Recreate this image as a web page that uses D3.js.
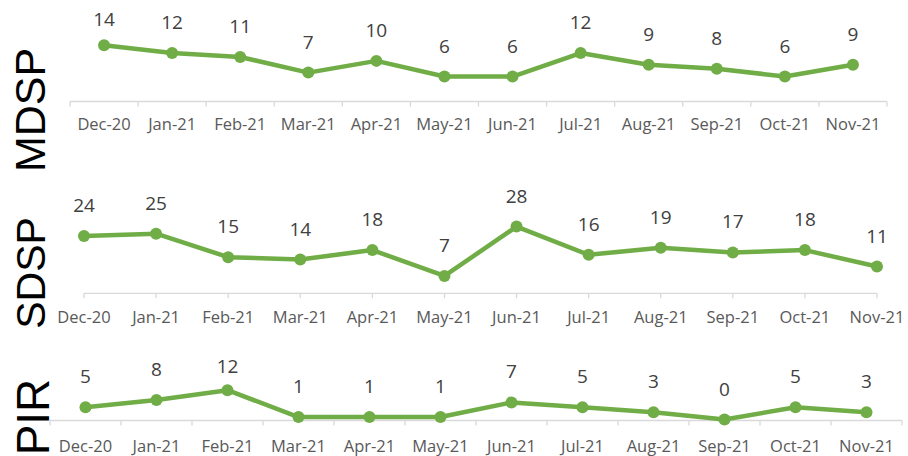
<!DOCTYPE html>
<html>
<head>
<meta charset="utf-8">
<script src="https://cdn.jsdelivr.net/npm/d3@7"></script>
<style>
  body { margin: 0; background: #fff; }
  svg { display: block; font-family: "Open Sans", sans-serif; }
</style>
</head>
<body>
<div id="chart"></div>
<script>
// monthly counts
const months = ["Dec-20","Jan-21","Feb-21","Mar-21","Apr-21","May-21","Jun-21","Jul-21","Aug-21","Sep-21","Oct-21","Nov-21"];
const mdsp = [14, 12, 11, 7, 10, 6, 6, 12, 9, 8, 6, 9];
const sdsp = [24, 25, 15, 14, 18, 7, 28, 16, 19, 17, 18, 11];
const pir  = [5, 8, 12, 1, 1, 1, 7, 5, 3, 0, 5, 3];

const W = 908, H = 456;
const green = "#70ad47";

const svg = d3.select("#chart").append("svg")
    .attr("width", W)
    .attr("height", H);

// layout of the three panels (Excel put them at slightly different spots)
const panels = [
  {name: "MDSP", values: mdsp, mode: "band", x0: 70, x1: 887, axisY: 101.5,
   yDom: [0, 16], yRange: [100, 37.4], labelMin: 26, tickBase: 130,
   title: {x: 45, y: 110, size: 43}},
  {name: "SDSP", values: sdsp, mode: "point", x0: 84, x1: 877, axisY: 293.3,
   yDom: [0, 30], yRange: [292.4, 221.9], labelMin: 0, tickBase: 323,
   title: {x: 45, y: 273, size: 41}},
  {name: "PIR", values: pir, mode: "band", x0: 50, x1: 902, axisY: 420.5,
   yDom: [0, 14], yRange: [419.5, 385.3], labelMin: 373, tickBase: 451.5,
   title: {x: 49, y: 417, size: 46}}
];

panels.forEach(function(p){
  const g = svg.append("g").attr("class", "panel " + p.name);

  let x, cx, tickPos;
  if (p.mode === "band") {
    x = d3.scaleBand().domain(months).range([p.x0, p.x1]).padding(0);
    cx = d => x(d) + x.bandwidth() / 2;
    tickPos = months.map(m => x(m)).concat([p.x1]);
  } else {
    x = d3.scalePoint().domain(months).range([p.x0, p.x1]);
    cx = d => x(d);
    tickPos = months.map(m => x(m));
  }
  const y = d3.scaleLinear().domain(p.yDom).range(p.yRange);

  // axis line + ticks
  g.append("line")
      .attr("x1", p.x0).attr("x2", p.x1)
      .attr("y1", p.axisY).attr("y2", p.axisY)
      .attr("stroke", "#d9d9d9").attr("stroke-width", 1.3);

  g.selectAll(".tick")
      .data(tickPos)
      .enter()
      .append("line")
      .attr("x1", d => d).attr("x2", d => d)
      .attr("y1", p.axisY).attr("y2", p.axisY + 5)
      .attr("stroke", "#d9d9d9").attr("stroke-width", 1.3);

  g.selectAll(".tlabel")
      .data(months)
      .enter()
      .append("text")
      .attr("x", d => cx(d))
      .attr("y", p.tickBase)
      .attr("text-anchor", "middle")
      .attr("font-size", 16.5)
      .attr("fill", "#595959")
      .text(d => d);

  const pts = months.map((m, i) => ({m: m, v: p.values[i]}));

  const line = d3.line()
      .x(d => cx(d.m))
      .y(d => y(d.v));

  g.append("path")
      .datum(pts)
      .attr("d", line)
      .attr("fill", "none")
      .attr("stroke", green)
      .attr("stroke-width", 4.5)
      .attr("stroke-linejoin", "round");

  g.selectAll(".dot")
      .data(pts)
      .enter()
      .append("circle")
      .attr("cx", d => cx(d.m))
      .attr("cy", d => y(d.v))
      .attr("r", 6)
      .attr("fill", green);

  g.selectAll(".vlabel")
      .data(pts)
      .enter()
      .append("text")
      .attr("x", d => cx(d.m))
      .attr("y", d => Math.max(p.labelMin, y(d.v) - 24))
      .attr("text-anchor", "middle")
      .attr("font-size", 19)
      .attr("fill", "#404040")
      .text(d => d.v);

  // big rotated panel name
  g.append("text")
      .attr("transform", "translate(" + p.title.x + "," + p.title.y + ") rotate(-90)")
      .attr("text-anchor", "middle")
      .attr("font-family", "'Liberation Sans', Arial, sans-serif")
      .attr("font-size", p.title.size)
      .attr("fill", "#000")
      .text(p.name);
});
</script>
</body>
</html>
